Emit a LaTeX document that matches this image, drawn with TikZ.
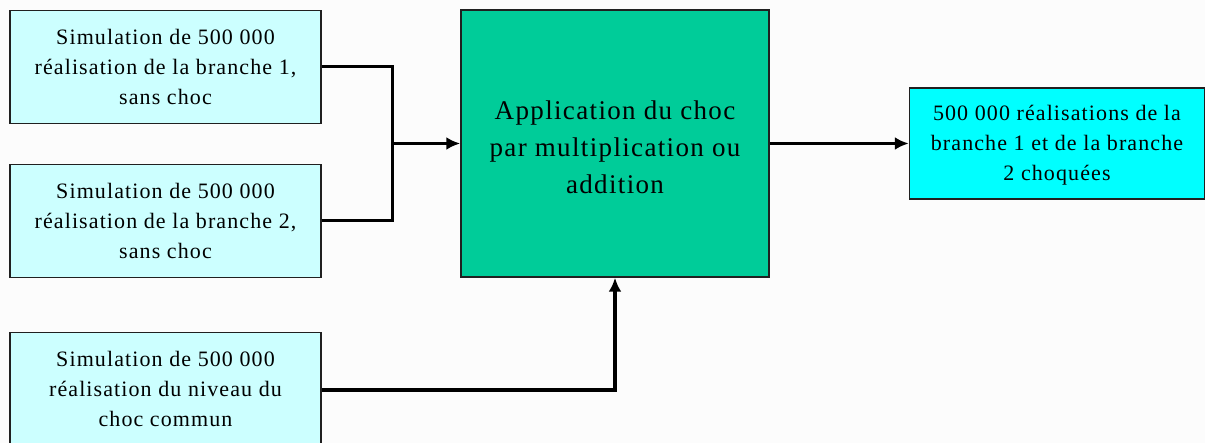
\documentclass[tikz,border=0pt]{standalone}
\usepackage{fontspec}
\setmainfont{Liberation Serif}[LetterSpace=5]
\usetikzlibrary{arrows.meta}
\definecolor{lightc}{HTML}{CCFFFF}
\definecolor{mainc}{HTML}{00CC99}
\definecolor{rightc}{HTML}{00FFFF}
\definecolor{bord}{HTML}{202020}
\tikzset{
  sbox/.style={draw=bord,line width=1.5pt,minimum width=311pt,minimum height=113pt,align=center,font=\fontsize{22}{30}\selectfont,inner sep=0pt},
  tip/.style={-{Latex[length=14pt,width=13pt]}},
  conn/.style={line width=3pt,tip},
}
\begin{document}
\begin{tikzpicture}[x=1pt,y=-1pt]
\useasboundingbox (0,0) rectangle (1205,443);
\clip (0,0) rectangle (1205,443);
\fill[white!99!black] (0,0) rectangle (1205,443);
\node[sbox,fill=lightc] (b1) at (165.5,67) {Simulation de 500 000\\réalisation de la branche 1,\\sans choc};
\node[sbox,fill=lightc] (b2) at (165.5,221) {Simulation de 500 000\\réalisation de la branche 2,\\sans choc};
\node[sbox,fill=lightc] (b3) at (165.5,389) {Simulation de 500 000\\réalisation du niveau du\\choc commun};
\node[draw=bord,line width=1.5pt,fill=mainc,minimum width=308pt,minimum height=267pt,align=center,font=\fontsize{27}{37}\selectfont,inner sep=0pt] (m) at (615,143.5) {\parbox{300pt}{\vspace*{7pt}\centering Application du choc\\par multiplication ou\\addition}};
\node[draw=bord,line width=1.5pt,fill=rightc,minimum width=295pt,minimum height=111pt,align=center,font=\fontsize{22}{30}\selectfont,inner sep=0pt] (r) at (1057,143.5) {\parbox{290pt}{\vspace*{4pt}\centering 500 000 réalisations de la\\branche 1 et de la branche\\2 choquées}};
\coordinate (j) at (392,143.5);
\draw[line width=3pt] (b1.east) -| (j);
\draw[line width=3pt] (b2.east) -| (j);
\draw[conn] (j) -- (m.west);
\coordinate (b3e) at (b3.east |- 0,390);
\draw[line width=4.5pt,tip] (b3e) -| (m.south);
\draw[conn] (m.east) -- (r.west);
\end{tikzpicture}
\end{document}
